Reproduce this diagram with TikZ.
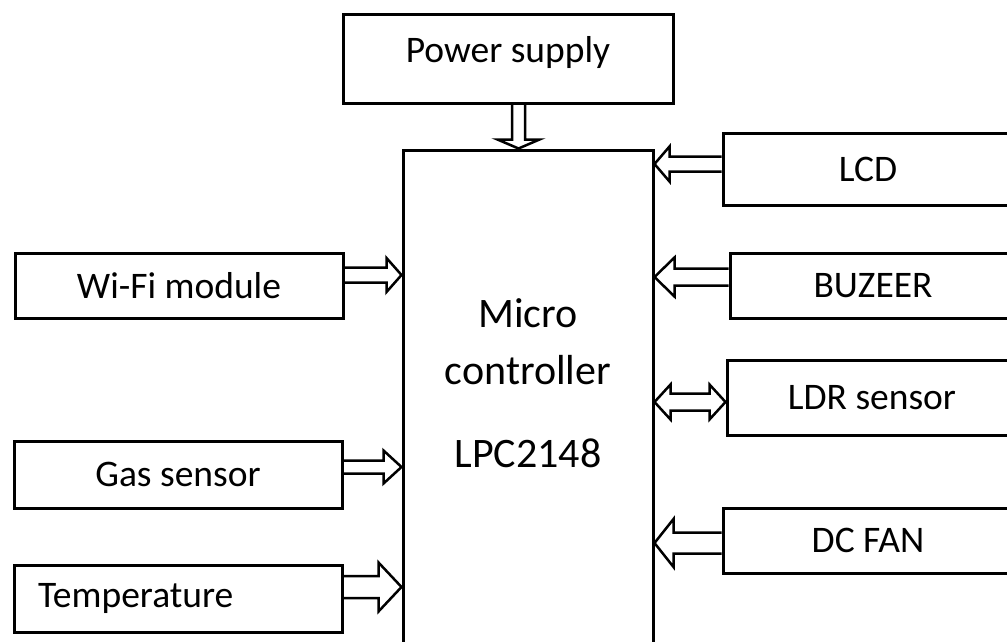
\documentclass[tikz,border=0pt]{standalone}
\usepackage{fontspec}
\setmainfont{Carlito}
\usetikzlibrary{calc}
\tikzset{
  box/.style={draw, line width=3pt, rectangle, inner sep=0pt, font=\fontsize{37.5}{44}\selectfont},
  blk/.style={draw, line width=2.5pt, line join=miter},
}
% right-pointing block arrow: from #1 to #2 at height #3, shaft half #4, head half #5, head length #6
\newcommand{\harrowR}[6]{\draw[blk] let \p1=(#1), \p2=(#2) in
  (\x1,#3+#4) -- (\x2-#6,#3+#4) -- (\x2-#6,#3+#5) -- (\x2,#3) -- (\x2-#6,#3-#5) -- (\x2-#6,#3-#4) -- (\x1,#3-#4);}
% left-pointing block arrow: from #1 (right) to #2 (left)
\newcommand{\harrowL}[6]{\draw[blk] let \p1=(#1), \p2=(#2) in
  (\x1,#3+#4) -- (\x2+#6,#3+#4) -- (\x2+#6,#3+#5) -- (\x2,#3) -- (\x2+#6,#3-#5) -- (\x2+#6,#3-#4) -- (\x1,#3-#4);}
% double block arrow between #1 (left) and #2 (right)
\newcommand{\harrowD}[6]{\draw[blk] let \p1=(#1), \p2=(#2) in
  (\x1,#3) -- (\x1+#6,#3+#5) -- (\x1+#6,#3+#4) -- (\x2-#6,#3+#4) -- (\x2-#6,#3+#5) -- (\x2,#3)
  -- (\x2-#6,#3-#5) -- (\x2-#6,#3-#4) -- (\x1+#6,#3-#4) -- (\x1+#6,#3-#5) -- cycle;}
% downward block arrow from #1 to #2 at x #3
\newcommand{\varrowD}[6]{\draw[blk] let \p1=(#1), \p2=(#2) in
  (#3+#4,\y1) -- (#3+#4,\y2+#6) -- (#3+#5,\y2+#6) -- (#3,\y2) -- (#3-#5,\y2+#6) -- (#3-#4,\y2+#6) -- (#3-#4,\y1);}
\begin{document}
\begin{tikzpicture}[x=1pt,y=1pt]
\useasboundingbox (0,0) rectangle (1007,-642);
\clip (0,0) rectangle (1007,-642);

\node[box, minimum width=330pt, minimum height=88pt, text depth=18pt, text height=26pt] (pwr) at (508,-59) {Power supply};
\node[box, minimum width=250pt, minimum height=520pt] (mcu) at (528,-410) {};
\node[font=\fontsize{42}{57}\selectfont, align=center, inner sep=0pt] (mcutxt) at (528,-383)
  {Micro\\controller\\[26pt]LPC2148};

\node[box, minimum width=328pt, minimum height=65pt] (wifi) at (179,-285.5) {Wi-Fi module};
\node[box, minimum width=328pt, minimum height=67pt] (gas) at (178,-474.5) {Gas sensor};
\node[box, minimum width=328pt, minimum height=67pt, text width=280pt, align=left] (temp) at (178,-598.5) {Temperature};

\node[box, minimum width=290pt, minimum height=72pt] (lcd) at (868,-169) {LCD};
\node[box, minimum width=286pt, minimum height=65pt] (buz) at (873,-285.5) {BUZEER};
\node[box, minimum width=290pt, minimum height=75pt] (ldr) at (872,-397.5) {LDR sensor};
\node[box, minimum width=290pt, minimum height=65pt] (fan) at (868,-540.5) {DC FAN};

\varrowD{pwr.south}{mcu.north}{518.5pt}{6.5pt}{21pt}{9pt}
\harrowR{wifi.east}{mcu.west}{-275pt}{7.5pt}{17pt}{15pt}
\harrowR{gas.east}{mcu.west}{-467pt}{6.5pt}{16.5pt}{18pt}
\harrowR{temp.east}{mcu.west}{-587pt}{11pt}{24.5pt}{23pt}
\harrowL{lcd.west}{mcu.east}{-164pt}{7.5pt}{17.5pt}{15pt}
\harrowL{buz.west}{mcu.east}{-277pt}{8.5pt}{19.5pt}{20pt}
\harrowD{mcu.east}{ldr.west}{-402pt}{8.5pt}{17.5pt}{16pt}
\harrowL{fan.west}{mcu.east}{-543pt}{10.5pt}{24pt}{19pt}
\end{tikzpicture}
\end{document}
